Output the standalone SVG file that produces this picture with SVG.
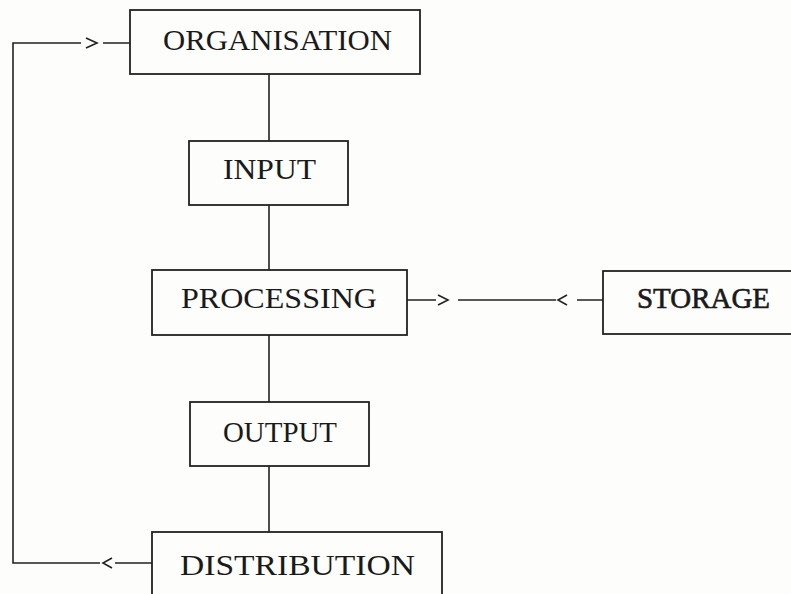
<svg xmlns="http://www.w3.org/2000/svg" width="791" height="594" viewBox="0 0 791 594">
<style>
.box{fill:none;stroke:#222;stroke-width:1.8}
.ln{fill:none;stroke:#222;stroke-width:1.6}
.lbl{font-family:"Liberation Serif","DejaVu Serif",serif;font-size:29px;fill:#1a1a1a}
</style>
<rect width="791" height="594" fill="#fdfdfb"/>
<g id="connectors">
<path class="ln" d="M269,74 V141 M269,205 V270 M269,335 V402 M269,466 V532"/>
<path class="ln" d="M130,43 H103 M81,43 H13 V563 H100 M115,563 H152"/>
<path class="ln" d="M86,38 L97,43 L86,48 M112,558 L103,563 L112,568"/>
<path class="ln" d="M407,300 H436 M458,300 H556 M577,300 H603"/>
<path class="ln" d="M438,295 L448,300 L438,305 M567,295 L558,300 L567,305"/>
</g>
<g id="organisation">
<rect class="box" x="130" y="10" width="290" height="64"/>
<text class="lbl" x="163" y="50" textLength="229" lengthAdjust="spacingAndGlyphs">ORGANISATION</text>
</g>
<g id="input">
<rect class="box" x="189" y="141" width="159" height="64"/>
<text class="lbl" x="223" y="179" textLength="93" lengthAdjust="spacingAndGlyphs">INPUT</text>
</g>
<g id="processing">
<rect class="box" x="152" y="270" width="255" height="65"/>
<text class="lbl" x="181" y="308" textLength="196" lengthAdjust="spacingAndGlyphs">PROCESSING</text>
</g>
<g id="storage">
<rect class="box" x="603" y="271" width="200" height="63"/>
<text class="lbl" x="637" y="308" textLength="133" lengthAdjust="spacingAndGlyphs" stroke="#1a1a1a" stroke-width="0.6">STORAGE</text>
</g>
<g id="output">
<rect class="box" x="190" y="402" width="179" height="64"/>
<text class="lbl" x="223" y="442" textLength="114" lengthAdjust="spacingAndGlyphs">OUTPUT</text>
</g>
<g id="distribution">
<rect class="box" x="152" y="532" width="290" height="80"/>
<text class="lbl" x="180" y="575" textLength="235" lengthAdjust="spacingAndGlyphs">DISTRIBUTION</text>
</g>
</svg>
